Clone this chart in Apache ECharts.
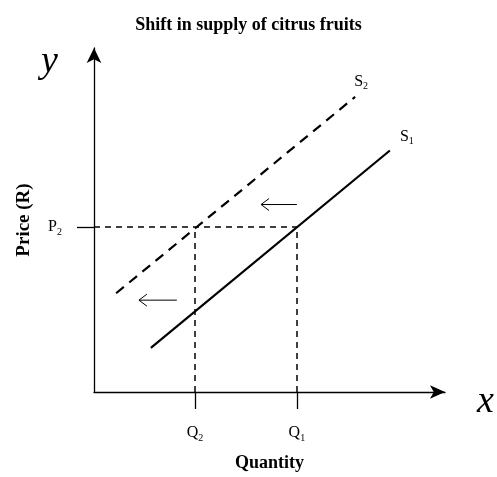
<!DOCTYPE html>
<html>
<head>
<meta charset="utf-8">
<script src="https://cdn.jsdelivr.net/npm/echarts@6/dist/echarts.min.js"></script>
<style>
  html, body { margin: 0; padding: 0; background: #fff; }
  #chart { width: 497px; height: 477px; }
</style>
</head>
<body>
<div id="chart"></div>
<script>
// values (axis units 0..10)
const qTicks = [2.88, 5.78]
const qLabels = ['2', '1']
const pTicks = [4.80]
const pLabels = ['2']
const supply1 = [[1.62, 1.28], [8.43, 7.02]]
const supply2 = [[0.63, 2.87], [7.44, 8.58]]
// shift arrows: [xStart (head), xEnd, y]
const shiftArrows = [[4.76, 5.78, 5.45], [1.28, 2.36, 2.67]]

const serif = 'Liberation Serif'
const subRich = {
  m: { fontFamily: serif, fontSize: 16, color: '#000', lineHeight: 20 },
  s: { fontFamily: serif, fontSize: 10, color: '#000', verticalAlign: 'bottom', lineHeight: 20 },
}

const chart = echarts.init(document.getElementById('chart'))

chart.setOption({
  animation: false,
  title: {
    text: 'Shift in supply of citrus fruits',
    left: 'center',
    top: 11,
    textStyle: { fontFamily: serif, fontWeight: 'bold', fontSize: 18, color: '#000' },
  },
  grid: { left: 94, top: 48, right: 52, bottom: 77 },
  graphic: [
    { type: 'text', left: 41, top: 43, style: { text: 'y', font: 'italic 38px "Liberation Serif"', fill: '#000' } },
    { type: 'text', left: 477, top: 383, style: { text: 'x', font: 'italic 38px "Liberation Serif"', fill: '#000' } },
  ],
  xAxis: {
    type: 'value',
    min: 0,
    max: 10,
    splitLine: { show: false },
    axisLine: {
      onZero: false,
      lineStyle: { color: '#000', width: 1.3 },
      symbol: ['none', 'arrow'],
      symbolSize: [10, 15],
    },
    axisTick: { show: true, customValues: qTicks, length: 17, lineStyle: { color: '#000', width: 1.3 } },
    axisLabel: {
      customValues: qTicks,
      margin: 31,
      formatter: (v) => '{m|Q}{s|' + qLabels[qTicks.indexOf(v)] + '}',
      rich: subRich,
    },
    name: 'Quantity',
    nameLocation: 'middle',
    nameGap: 62,
    nameTextStyle: { fontFamily: serif, fontWeight: 'bold', fontSize: 18, color: '#000' },
  },
  yAxis: {
    type: 'value',
    min: 0,
    max: 10,
    splitLine: { show: false },
    axisLine: {
      show: true,
      onZero: false,
      lineStyle: { color: '#000', width: 1.3 },
      symbol: ['none', 'arrow'],
      symbolSize: [11, 15],
    },
    axisTick: { show: true, customValues: pTicks, length: 17, lineStyle: { color: '#000', width: 1.3 } },
    axisLabel: {
      customValues: pTicks,
      margin: 32,
      formatter: (v) => '{m|P}{s|' + pLabels[pTicks.indexOf(v)] + '}',
      rich: subRich,
    },
    name: 'Price (R)',
    nameLocation: 'middle',
    nameGap: 60,
    nameTextStyle: { fontFamily: serif, fontWeight: 'bold', fontSize: 19, color: '#000' },
  },
  series: [
    {
      name: 'S1',
      type: 'line',
      data: supply1,
      symbol: 'none',
      lineStyle: { color: '#000', width: 2.2 },
      endLabel: {
        show: true,
        formatter: '{m|S}{s|1}',
        rich: subRich,
        offset: [2, -14],
      },
    },
    {
      name: 'S2',
      type: 'line',
      data: supply2,
      symbol: 'none',
      lineStyle: { color: '#000', width: 2.2, type: [10, 7] },
      endLabel: {
        show: true,
        formatter: '{m|S}{s|2}',
        rich: subRich,
        offset: [-9, -15],
      },
    },
    {
      // dashed guide lines from P2 / Q2 / Q1
      name: 'guides',
      type: 'line',
      data: [],
      silent: true,
      markLine: {
        symbol: 'none',
        silent: true,
        label: { show: false },
        lineStyle: { color: '#000', width: 1.5, type: [6, 5] },
        data: [
          [{ coord: [0, pTicks[0]] }, { coord: [qTicks[1], pTicks[0]] }],
          [{ coord: [qTicks[0], 0] }, { coord: [qTicks[0], pTicks[0]] }],
          [{ coord: [qTicks[1], 0] }, { coord: [qTicks[1], pTicks[0]] }],
        ],
      },
    },
    {
      name: 'shift',
      type: 'custom',
      data: shiftArrows,
      renderItem: (params, api) => {
        const a = api.coord([api.value(0), api.value(2)])
        const b = api.coord([api.value(1), api.value(2)])
        const st = { stroke: '#000', lineWidth: 1, fill: null }
        return {
          type: 'group',
          children: [
            { type: 'line', shape: { x1: a[0], y1: a[1], x2: b[0], y2: b[1] }, style: st },
            { type: 'polyline', shape: { points: [[a[0] + 8, a[1] - 6], [a[0], a[1]], [a[0] + 8, a[1] + 6]] }, style: st },
          ],
        }
      },
    },
  ],
})
</script>
</body>
</html>
